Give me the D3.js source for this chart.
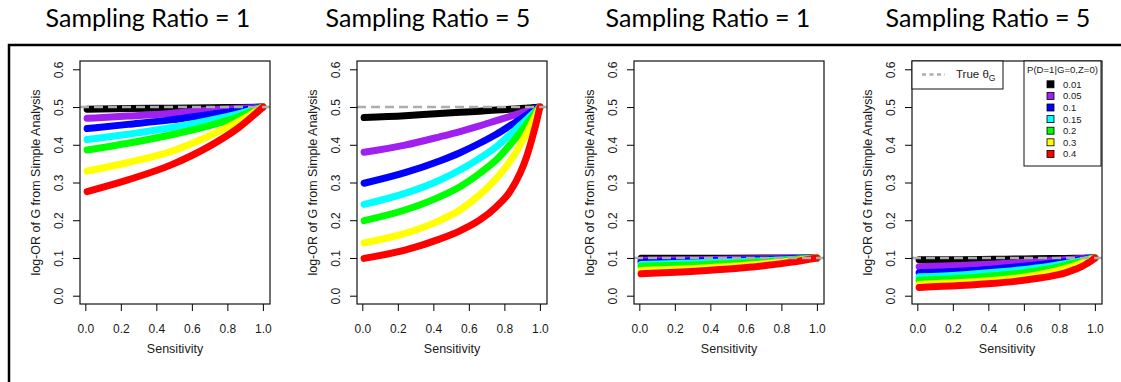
<!DOCTYPE html>
<html>
<head>
<meta charset="utf-8">
<script src="https://cdn.jsdelivr.net/npm/d3@7"></script>
<style>
  body { margin: 0; background: #fff; }
  svg { display: block; }
</style>
</head>
<body>
<svg id="chart" width="1121" height="382"></svg>
<script>
// ---- data ----
const titles = ["Sampling Ratio = 1", "Sampling Ratio = 5", "Sampling Ratio = 1", "Sampling Ratio = 5"];
const trueTheta = [0.5, 0.5, 0.1, 0.1];
const probLabels = ["0.01", "0.05", "0.1", "0.15", "0.2", "0.3", "0.4"];
const probColors = ["#000000", "#A020F0", "#0000FF", "#00FFFF", "#00FF00", "#FFFF00", "#FF0000"];
const xTicks = [0, 0.2, 0.4, 0.6, 0.8, 1.0];
const yTicks = [0, 0.1, 0.2, 0.3, 0.4, 0.5, 0.6];

// sensitivity grid for ratio = 1 panels
const sensR1 = [0.01, 0.24, 0.48, 0.71, 0.86, 1.0];
// sensitivity grid for ratio = 5 panels
const sensR5 = [0.01, 0.24, 0.435, 0.55, 0.66, 0.755, 0.83, 0.89, 0.925, 0.955, 0.975, 1.0];

// panel 1: ratio 1, theta 0.5 (one row per P(D=1|G=0,Z=0))
const panel1 = [
  [0.494, 0.496, 0.497, 0.498, 0.499, 0.5],
  [0.470, 0.476, 0.483, 0.492, 0.496, 0.5],
  [0.443, 0.454, 0.466, 0.481, 0.490, 0.5],
  [0.414, 0.428, 0.445, 0.466, 0.482, 0.5],
  [0.386, 0.404, 0.426, 0.452, 0.474, 0.5],
  [0.330, 0.353, 0.382, 0.426, 0.461, 0.5],
  [0.276, 0.307, 0.346, 0.399, 0.444, 0.5]
];
// panel 2: ratio 5, theta 0.5
const panel2 = [
  [0.472, 0.477, 0.483, 0.486, 0.489, 0.492, 0.494, 0.496, 0.497, 0.498, 0.499, 0.5],
  [0.380, 0.399, 0.421, 0.435, 0.450, 0.464, 0.475, 0.484, 0.489, 0.493, 0.496, 0.5],
  [0.298, 0.326, 0.357, 0.379, 0.404, 0.428, 0.450, 0.468, 0.479, 0.488, 0.494, 0.5],
  [0.242, 0.271, 0.306, 0.333, 0.364, 0.395, 0.426, 0.452, 0.467, 0.480, 0.489, 0.5],
  [0.199, 0.227, 0.262, 0.289, 0.324, 0.360, 0.399, 0.433, 0.455, 0.473, 0.485, 0.5],
  [0.140, 0.165, 0.199, 0.227, 0.267, 0.311, 0.355, 0.400, 0.430, 0.458, 0.477, 0.5],
  [0.099, 0.121, 0.150, 0.172, 0.200, 0.236, 0.275, 0.326, 0.368, 0.415, 0.450, 0.5]
];
// panel 3: ratio 1, theta 0.1
const panel3 = [
  [0.099, 0.099, 0.0995, 0.0997, 0.0998, 0.1],
  [0.094, 0.095, 0.0965, 0.098, 0.099, 0.1],
  [0.089, 0.091, 0.093, 0.096, 0.098, 0.1],
  [0.083, 0.086, 0.089, 0.093, 0.096, 0.1],
  [0.078, 0.081, 0.085, 0.090, 0.095, 0.1],
  [0.067, 0.071, 0.077, 0.085, 0.092, 0.1],
  [0.058, 0.063, 0.070, 0.080, 0.089, 0.1]
];
// panel 4: ratio 5, theta 0.1
const panel4 = [
  [0.095, 0.0955, 0.0966, 0.0972, 0.0978, 0.0984, 0.0988, 0.0992, 0.0994, 0.0996, 0.0998, 0.1],
  [0.077, 0.080, 0.084, 0.087, 0.090, 0.093, 0.095, 0.097, 0.098, 0.099, 0.0995, 0.1],
  [0.061, 0.065, 0.071, 0.076, 0.081, 0.086, 0.090, 0.094, 0.096, 0.098, 0.099, 0.1],
  [0.050, 0.055, 0.062, 0.067, 0.073, 0.079, 0.085, 0.090, 0.093, 0.096, 0.098, 0.1],
  [0.041, 0.046, 0.053, 0.058, 0.065, 0.072, 0.080, 0.087, 0.091, 0.095, 0.097, 0.1],
  [0.030, 0.035, 0.041, 0.046, 0.054, 0.063, 0.072, 0.080, 0.086, 0.092, 0.096, 0.1],
  [0.022, 0.027, 0.033, 0.038, 0.045, 0.052, 0.060, 0.070, 0.077, 0.085, 0.091, 0.1]
];

const panels = [
  { sens: sensR1, values: panel1 },
  { sens: sensR5, values: panel2 },
  { sens: sensR1, values: panel3 },
  { sens: sensR5, values: panel4 }
];

// ---- layout ----
const boxLefts = [80, 357, 634, 912];
const titleCenters = [148, 428, 708, 988];
const boxW = 190, boxTop = 61, boxBottom = 304;
const axisFont = "'Liberation Sans', Arial, Helvetica, sans-serif";
const textColor = "#1a1a1a";

const svg = d3.select("#chart");

// outer frame (runs off the right and bottom edges)
svg.append("rect")
  .attr("x", 9).attr("y", 45)
  .attr("width", 1200).attr("height", 400)
  .attr("fill", "none")
  .attr("stroke", "#000")
  .attr("stroke-width", 2.5);

panels.forEach((p, i) => {
  const left = boxLefts[i];
  const g = svg.append("g");

  const x = d3.scaleLinear().domain([-0.03, 1.04]).range([left, left + boxW]);
  const y = d3.scaleLinear().domain([-0.022, 0.622]).range([boxBottom, boxTop]);

  // title
  svg.append("text")
    .attr("x", titleCenters[i])
    .attr("y", 27)
    .attr("text-anchor", "middle")
    .style("font-family", "Lato, 'Open Sans', sans-serif")
    .style("font-size", "25px")
    .text(titles[i]);

  // curves, black first, red on top
  const line = d3.line()
    .x((d, k) => x(p.sens[k]))
    .y(d => y(d))
    .curve(d3.curveMonotoneX);

  p.values.forEach((vals, s) => {
    g.append("path")
      .attr("d", line(vals))
      .attr("fill", "none")
      .attr("stroke", probColors[s])
      .attr("stroke-width", 7)
      .attr("stroke-linecap", "round");
  });

  // true theta reference line
  g.append("line")
    .attr("x1", left).attr("x2", left + boxW)
    .attr("y1", y(trueTheta[i])).attr("y2", y(trueTheta[i]))
    .attr("stroke", "#ADADAD")
    .attr("stroke-width", 2.5)
    .attr("stroke-dasharray", "9,5");

  // axes
  const yAxis = g.append("g")
    .attr("transform", `translate(${left},0)`)
    .call(d3.axisLeft(y).tickValues(yTicks).tickFormat(d3.format(".1f")).tickSize(7).tickSizeOuter(0));
  yAxis.select(".domain").remove();
  yAxis.selectAll("text")
    .attr("x", 0).attr("dy", 0)
    .attr("text-anchor", "middle")
    .attr("transform", "translate(-17,0) rotate(-90)")
    .style("font-family", axisFont)
    .style("font-size", "12px")
    .attr("fill", textColor);

  const xAxis = g.append("g")
    .attr("transform", `translate(0,${boxBottom})`)
    .call(d3.axisBottom(x).tickValues(xTicks).tickFormat(d3.format(".1f")).tickSize(7).tickPadding(13).tickSizeOuter(0));
  xAxis.select(".domain").remove();
  xAxis.selectAll("text")
    .style("font-family", axisFont)
    .style("font-size", "12px")
    .attr("fill", textColor);

  // plot box
  g.append("rect")
    .attr("x", left).attr("y", boxTop)
    .attr("width", boxW).attr("height", boxBottom - boxTop)
    .attr("fill", "none")
    .attr("stroke", "#111")
    .attr("stroke-width", 1.2);

  // axis titles
  g.append("text")
    .attr("x", left + boxW / 2)
    .attr("y", 353)
    .attr("text-anchor", "middle")
    .style("font-family", axisFont)
    .style("font-size", "12.5px")
    .attr("fill", textColor)
    .text("Sensitivity");

  g.append("text")
    .attr("transform", `translate(${left - 40},${(boxTop + boxBottom) / 2}) rotate(-90)`)
    .attr("text-anchor", "middle")
    .style("font-family", axisFont)
    .style("font-size", "12.5px")
    .attr("fill", textColor)
    .text("log-OR of G from Simple Analysis");

  // legends on the last panel
  if (i === 3) {
    const lg = g.append("g");
    lg.append("rect")
      .attr("x", left).attr("y", boxTop)
      .attr("width", 91).attr("height", 28)
      .attr("fill", "#fff").attr("stroke", "#111").attr("stroke-width", 1);
    lg.append("line")
      .attr("x1", left + 10).attr("x2", left + 33)
      .attr("y1", boxTop + 13.5).attr("y2", boxTop + 13.5)
      .attr("stroke", "#ADADAD").attr("stroke-width", 2.5)
      .attr("stroke-dasharray", "4,3.5");
    const tt = lg.append("text")
      .attr("x", left + 44).attr("y", boxTop + 17)
      .style("font-family", axisFont)
      .style("font-size", "11.5px")
      .attr("fill", textColor);
    tt.append("tspan").text("True \u03B8");
    tt.append("tspan").attr("dy", 3).style("font-size", "8.5px").text("G");

    const lx = left + 112, lw = 77;
    lg.append("rect")
      .attr("x", lx).attr("y", boxTop)
      .attr("width", lw).attr("height", 105)
      .attr("fill", "#fff").attr("stroke", "#111").attr("stroke-width", 1);
    lg.append("text")
      .attr("x", lx + lw / 2).attr("y", boxTop + 11.5)
      .attr("text-anchor", "middle")
      .style("font-family", axisFont)
      .style("font-size", "9.6px")
      .attr("fill", textColor)
      .text("P(D=1|G=0,Z=0)");
    probLabels.forEach((lab, s) => {
      const cy = boxTop + 23.3 + s * 11.6;
      lg.append("rect")
        .attr("x", lx + 23).attr("y", cy - 3.5)
        .attr("width", 7).attr("height", 7)
        .attr("fill", probColors[s]).attr("stroke", "#000").attr("stroke-width", 0.8);
      lg.append("text")
        .attr("x", lx + 39).attr("y", cy + 3.5)
        .style("font-family", axisFont)
        .style("font-size", "9.5px")
        .attr("fill", textColor)
        .text(lab);
    });
  }
});
</script>
</body>
</html>
